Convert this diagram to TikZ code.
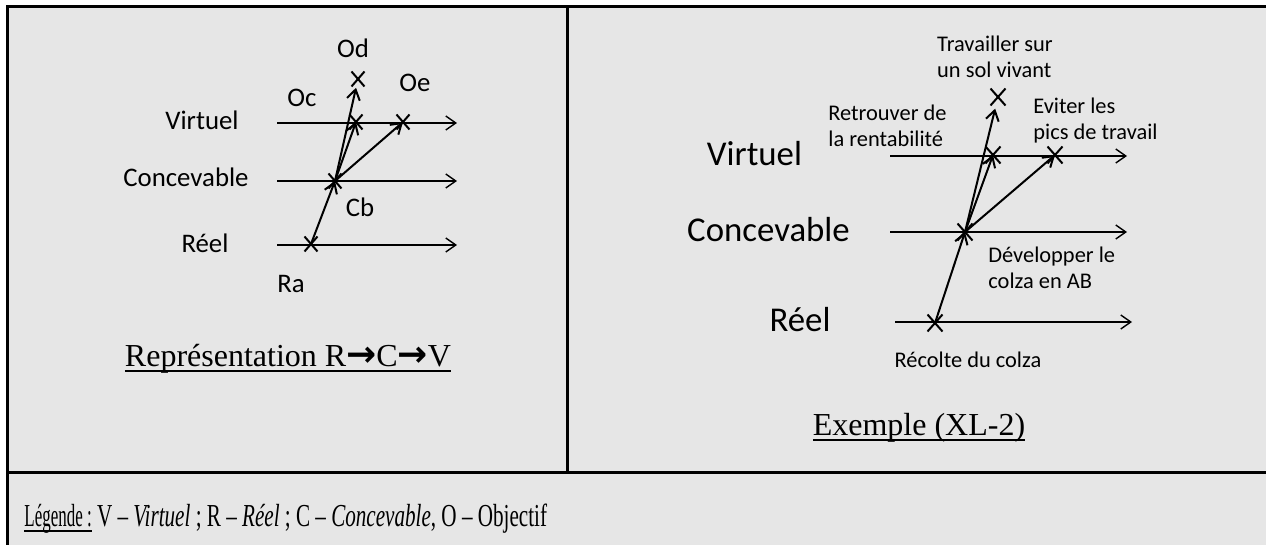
\documentclass[tikz,border=0pt]{standalone}
\usepackage{fontspec}
\usepackage{graphicx}
\setmainfont{Liberation Serif}
\setsansfont{Carlito}
\newfontfamily\arrowfont{DejaVu Sans}
\usetikzlibrary{arrows.meta, shapes.misc}
\definecolor{cellgray}{RGB}{230,230,230}
\definecolor{mydark}{RGB}{0,0,0}
\newcommand{\ulin}[1]{\setbox0\hbox{#1}\rlap{\rule[-2.4pt]{\wd0}{0.9pt}}\box0\relax}
\newcommand{\rarr}{{\arrowfont\bfseries\fontsize{18}{19}\selectfont →}}
\tikzset{
  axislabel/.style={font=\sffamily\fontsize{13.4}{16}\selectfont, inner sep=0pt, anchor=base},
  biglabel/.style={font=\sffamily\fontsize{17.4}{20}\selectfont, inner sep=0pt, anchor=base},
  note/.style={font=\sffamily\fontsize{11.2}{13}\selectfont, inner sep=0pt, align=left},
  caption/.style={font=\fontsize{16}{19}\selectfont, inner sep=0pt, anchor=base},
  levelaxis/.style={-{Straight Barb[length=5pt,width=7pt]}, line width=0.7pt, color=mydark},
  jump/.style={-{Straight Barb[length=5pt,width=6.5pt]}, line width=1pt, color=mydark},
  crossmark/.style={cross out, draw=mydark, line width=1pt, inner sep=0pt, minimum width=5.5pt, minimum height=6.5pt},
  bigcross/.style={crossmark, minimum width=6.5pt, minimum height=7.5pt},
  frame/.style={line width=1.5pt, color=mydark}
}
\begin{document}
\begin{tikzpicture}[x=0.5pt, y=-0.5pt]
  \useasboundingbox (0,0) rectangle (1266,545);
  % Table background and rules
  \fill[white] (0,0) rectangle (1266,545);
  \fill[cellgray] (7,7) rectangle (1266,545);
  \draw[frame] (6,7) -- (1266,7);
  \draw[frame] (7,6) -- (7,545);
  \draw[frame] (567.5,7) -- (567.5,472.5);
  \draw[frame] (7,472.5) -- (1266,472.5);

  % Left cell: levels
  \node[axislabel] (virt) at (202,130) {Virtuel};
  \node[axislabel] (conc) at (186,187) {Concevable};
  \node[axislabel] (reel) at (205,253) {Réel};
  \coordinate (va) at (277,123); \coordinate (vb) at (457,123);
  \coordinate (ca) at (277,181); \coordinate (cb) at (457,181);
  \coordinate (ra) at (277,245); \coordinate (rb) at (457,245);
  \draw[levelaxis] (va) -- (vb);
  \draw[levelaxis] (ca) -- (cb);
  \draw[levelaxis] (ra) -- (rb);

  % Left cell: points
  \node[crossmark] (pra) at (311,244) {};
  \node[crossmark] (pcb) at (335,181) {};
  \node[crossmark] (poc) at (356,122) {};
  \node[crossmark] (poe) at (403,122) {};
  \node[crossmark] (pod) at (358,79) {};
  \node[axislabel] (lod) at (353,58) {Od};
  \node[axislabel] (loe) at (415,92) {Oe};
  \node[axislabel] (loc) at (302,107) {Oc};
  \node[axislabel] (lcb) at (360,217) {Cb};
  \node[axislabel] (lra) at (291,293) {Ra};
  \draw[jump] (pra.center) -- (pcb.center);
  \draw[jump] (pcb.center) -- (poc.center);
  \draw[jump] (pcb.center) -- (poe.center);
  \draw[jump, shorten >=4.5pt] (pcb.center) -- (pod.center);
  \node[caption] (capl) at (288,367) {\ulin{Représentation R\rarr C\rarr V}};

  % Right cell: levels
  \node[biglabel] (virt2) at (754.5,166) {Virtuel};
  \node[biglabel] (conc2) at (768.5,242) {Concevable};
  \node[biglabel] (reel2) at (800,332) {Réel};
  \coordinate (va2) at (890,156); \coordinate (vb2) at (1127,156);
  \coordinate (ca2) at (890,232); \coordinate (cb2) at (1127,232);
  \coordinate (ra2) at (895,322); \coordinate (rb2) at (1132,322);
  \draw[levelaxis] (va2) -- (vb2);
  \draw[levelaxis] (ca2) -- (cb2);
  \draw[levelaxis] (ra2) -- (rb2);

  % Right cell: points
  \node[bigcross] (qra) at (935,323) {};
  \node[bigcross] (qcb) at (965,232) {};
  \node[bigcross] (qoc) at (993,155) {};
  \node[bigcross] (qoe) at (1055,155) {};
  \node[bigcross] (qod) at (998,97) {};
  \node[note] (tod) at (995,56.5) {Travailler sur\\un sol vivant};
  \node[note, anchor=west] (toc) at (828,125.5) {Retrouver de\\la rentabilité};
  \node[note, anchor=west] (toe) at (1033,120.5) {Eviter les\\pics de travail};
  \node[note, anchor=west] (tcb) at (988,268) {Développer le\\colza en AB};
  \node[note, anchor=base] (tra) at (968,368) {Récolte du colza};
  \draw[jump] (qra.center) -- (qcb.center);
  \draw[jump] (qcb.center) -- (qoc.center);
  \draw[jump] (qcb.center) -- (qoe.center);
  \draw[jump, shorten >=6pt] (qcb.center) -- (qod.center);
  \node[caption] (capr) at (919,436) {\ulin{Exemple (XL-2)}};

  % Legend row
  \node[caption, anchor=base west] (legend) at (24,527)
    {\scalebox{0.53}[1]{\ulin{Légende :}}\scalebox{0.66}[1]{ V – \textit{Virtuel} ; R – \textit{Réel} ; C – \textit{Concevable}, O – Objectif}};
\end{tikzpicture}
\end{document}
